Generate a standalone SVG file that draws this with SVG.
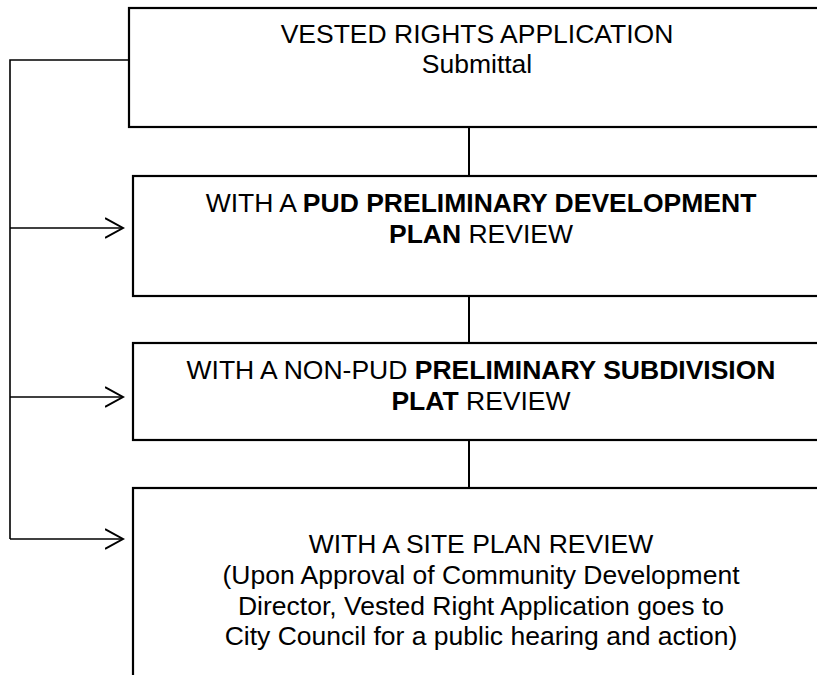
<svg xmlns="http://www.w3.org/2000/svg" width="817" height="675" viewBox="0 0 817 675">
<style>
.box{fill:#fff;stroke:#000;stroke-width:2.2}
.ln{fill:none;stroke:#000;stroke-width:2}
.lf{fill:none;stroke:#000;stroke-width:1.6}
text{font-family:"Liberation Sans",Arial,sans-serif;font-size:26.5px;fill:#000;text-anchor:middle}
.b{font-weight:bold}
</style>
<defs>
<marker id="arr" viewBox="0 0 20 22" refX="18" refY="11" markerWidth="20" markerHeight="22" markerUnits="userSpaceOnUse" orient="auto">
<path d="M0,1 L18,11 L0,21" fill="none" stroke="#000" stroke-width="2"/>
</marker>
</defs>
<g id="connectors">
<path class="ln" d="M469,127 V176"/>
<path class="ln" d="M469,296 V343"/>
<path class="ln" d="M469,440 V488"/>
<path class="lf" d="M129,60 H10 V539"/>
<path class="lf" d="M10,228 H123" marker-end="url(#arr)"/>
<path class="lf" d="M10,397 H123" marker-end="url(#arr)"/>
<path class="lf" d="M10,539 H123" marker-end="url(#arr)"/>
</g>
<g id="node-submittal">
<rect class="box" x="129" y="8" width="700" height="119"/>
<text x="477" y="43">VESTED RIGHTS APPLICATION</text>
<text x="477" y="73">Submittal</text>
</g>
<g id="node-pud">
<rect class="box" x="133" y="176" width="696" height="120"/>
<text x="481" y="212">WITH A <tspan class="b">PUD PRELIMINARY DEVELOPMENT</tspan></text>
<text x="481" y="243"><tspan class="b">PLAN</tspan> REVIEW</text>
</g>
<g id="node-nonpud">
<rect class="box" x="133" y="343" width="696" height="97"/>
<text x="481" y="379">WITH A NON-PUD <tspan class="b">PRELIMINARY SUBDIVISION</tspan></text>
<text x="481" y="410"><tspan class="b">PLAT</tspan> REVIEW</text>
</g>
<g id="node-site">
<rect class="box" x="133" y="488" width="696" height="220"/>
<text x="481" y="553">WITH A SITE PLAN REVIEW</text>
<text x="481" y="584">(Upon Approval of Community Development</text>
<text x="481" y="615">Director, Vested Right Application goes to</text>
<text x="481" y="645">City Council for a public hearing and action)</text>
</g>
</svg>
